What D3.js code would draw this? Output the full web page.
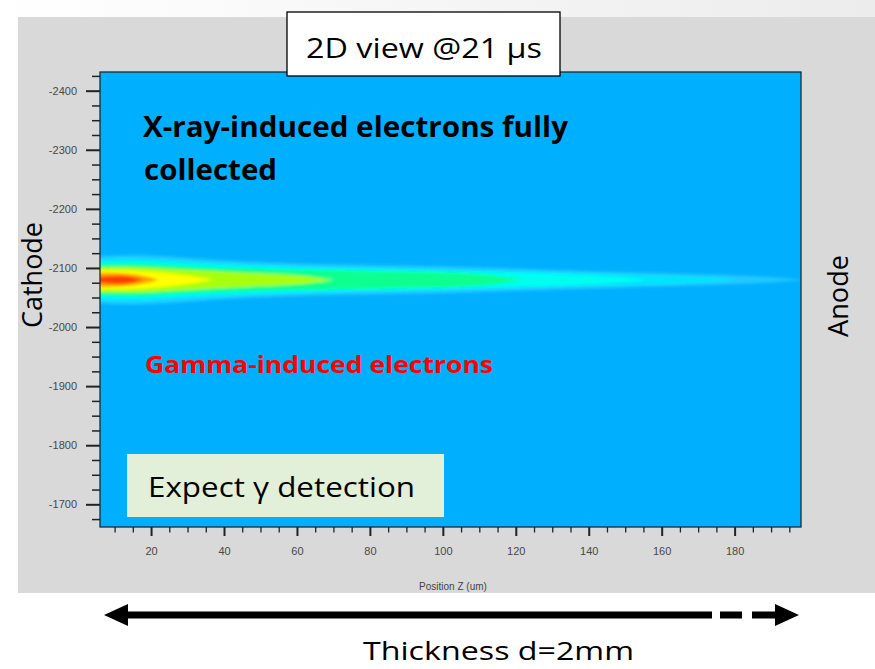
<!DOCTYPE html>
<html lang="en">
<head>
  <meta charset="UTF-8">
  <title>2D view @21 µs</title>
  <script src="https://d3js.org/d3.v7.min.js"></script>
  <style>
    body { margin: 0; background: #fff; }
    .axis text { font-family: "Liberation Sans", Arial, sans-serif; font-size: 11px; fill: #484848; }
    .axis line { stroke: #222; }
    .slide { font-family: "Open Sans", sans-serif; fill: #000; }
  </style>
</head>
<body>
  <svg id="chart" width="875" height="669"></svg>

  <script>
    // axis ticks
    const yTicks = [-2400, -2300, -2200, -2100, -2000, -1900, -1800, -1700];
    const xTicks = [20, 40, 60, 80, 100, 120, 140, 160, 180];

    // plume: centre row (um) and contour half-widths [z, half-width] per density level
    const plumeCenter = -2080;
    const levels = [1, 2, 3, 4, 5, 6, 7, 8];
    const band1 = [[3,39],[12,42],[20,42],[30,37],[45,31],[60,27],[80,25],[100,23],[120,19],[148,13],[175,9],[190,5],[199,0]];
    const band2 = [[3,34],[12,37],[20,36],[30,32],[45,27],[60,23],[80,21],[100,18],[120,15],[148,10],[165,7],[175,4],[181,0]];
    const band3 = [[3,30],[12,32],[20,31],[30,27],[45,23],[60,20],[80,18],[100,15],[120,12],[140,8],[150,4],[156,0]];
    const band4 = [[3,26],[12,28],[20,27],[30,23],[45,19],[60,17],[80,15],[100,13],[110,10],[117,5],[122,0]];
    const band5 = [[3,21],[12,22],[20,21],[30,17],[40,14],[50,11],[60,8],[66,4],[70,0]];
    const band6 = [[3,16],[12,17],[18,15],[25,11],[32,6],[37,0]];
    const band7 = [[3,11],[8,12],[13,11],[18,7],[22,0]];
    const band8 = [[5,4],[8,6],[11,7],[14,6],[16,3],[18,0]];
    const bands = [band1, band2, band3, band4, band5, band6, band7, band8];

    const width = 875;
    const height = 669;
    const plot = { left: 100, top: 72, right: 801, bottom: 527 };

    const svg = d3.select("#chart");

    // slide background
    const grad = svg.append("defs").append("linearGradient")
      .attr("id", "topgrad").attr("x1", 0).attr("x2", 1);
    grad.append("stop").attr("offset", "0%").attr("stop-color", "#ffffff");
    grad.append("stop").attr("offset", "100%").attr("stop-color", "#ececec");
    svg.append("rect").attr("width", width).attr("height", 17).attr("fill", "url(#topgrad)");
    svg.append("rect")
      .attr("x", 18).attr("y", 17)
      .attr("width", width - 18).attr("height", 576)
      .attr("fill", "#d9d9d9");

    // scales
    const x = d3.scaleLinear().domain([6, 198.2]).range([plot.left, plot.right]);
    const y = d3.scaleLinear().domain([-2431.6, -1661.6]).range([plot.top, plot.bottom]);
    const color = d3.scaleLinear()
      .domain(levels)
      .range(["#22c8ff", "#00e4ff", "#00fff0", "#10ff90", "#a8ff10", "#ffff00", "#ffa000", "#ff3a00"]);

    const defs = svg.select("defs");
    defs.append("clipPath").attr("id", "plotclip")
      .append("rect")
      .attr("x", plot.left).attr("y", plot.top)
      .attr("width", plot.right - plot.left).attr("height", plot.bottom - plot.top);
    defs.append("filter").attr("id", "soft")
      .attr("x", "-10%").attr("y", "-50%").attr("width", "120%").attr("height", "200%")
      .append("feGaussianBlur").attr("stdDeviation", 1.6);

    // plot background
    svg.append("rect")
      .attr("x", plot.left).attr("y", plot.top)
      .attr("width", plot.right - plot.left).attr("height", plot.bottom - plot.top)
      .attr("fill", "#00b0ff");

    // plume contours
    const area = d3.area()
      .x((d) => x(d[0]))
      .y0((d) => y(plumeCenter - d[1]))
      .y1((d) => y(plumeCenter + d[1]))
      .curve(d3.curveBasis);

    svg.append("g").attr("clip-path", "url(#plotclip)")
      .append("g").attr("filter", "url(#soft)")
      .selectAll("path")
      .data(bands)
      .enter()
      .append("path")
      .attr("d", area)
      .attr("fill", (d, i) => color(levels[i]));

    // plot frame
    svg.append("rect")
      .attr("x", plot.left).attr("y", plot.top)
      .attr("width", plot.right - plot.left).attr("height", plot.bottom - plot.top)
      .attr("fill", "none").attr("stroke", "#1a2a33").attr("stroke-width", 1.3);

    // y axis
    const yMinor = d3.range(-2425, -1650, 25).filter((v) => v % 100 !== 0);
    const yAxis = svg.append("g").attr("class", "axis")
      .attr("transform", `translate(${plot.left},0)`)
      .call(d3.axisLeft(y).tickValues(yTicks).tickSize(14).tickPadding(9).tickFormat((d) => String(d)));
    yAxis.select(".domain").remove();
    yAxis.selectAll("line").attr("stroke-width", 2);
    const yAxisMinor = svg.append("g").attr("class", "axis")
      .attr("transform", `translate(${plot.left},0)`)
      .call(d3.axisLeft(y).tickValues(yMinor).tickSize(8).tickFormat(""));
    yAxisMinor.select(".domain").remove();
    yAxisMinor.selectAll("line").attr("stroke-width", 1.5);

    // x axis
    const xMinor = d3.range(10, 200, 5).filter((v) => v % 20 !== 0);
    const xAxis = svg.append("g").attr("class", "axis")
      .attr("transform", `translate(0,${plot.bottom})`)
      .call(d3.axisBottom(x).tickValues(xTicks).tickSize(9).tickPadding(11));
    xAxis.select(".domain").remove();
    xAxis.selectAll("line").attr("stroke-width", 2);
    const xAxisMinor = svg.append("g").attr("class", "axis")
      .attr("transform", `translate(0,${plot.bottom})`)
      .call(d3.axisBottom(x).tickValues(xMinor).tickSize(5.5).tickFormat(""));
    xAxisMinor.select(".domain").remove();
    xAxisMinor.selectAll("line").attr("stroke-width", 1.3);

    svg.append("text")
      .attr("x", 453).attr("y", 590)
      .attr("text-anchor", "middle")
      .style("font-family", "Liberation Sans, Arial, sans-serif")
      .style("font-size", "10px")
      .attr("fill", "#444")
      .text("Position Z (um)");

    // slide annotations
    svg.append("rect")
      .attr("x", 287).attr("y", 12).attr("width", 273).attr("height", 64)
      .attr("fill", "#fff").attr("stroke", "#000").attr("stroke-width", 1.3);
    svg.append("text").attr("class", "slide")
      .attr("x", 306).attr("y", 58)
      .attr("textLength", 236).attr("lengthAdjust", "spacingAndGlyphs")
      .style("font-size", "28px")
      .text("2D view @21 µs");

    svg.append("text").attr("class", "slide")
      .attr("x", 143).attr("y", 137)
      .attr("textLength", 425).attr("lengthAdjust", "spacingAndGlyphs")
      .style("font-size", "28px").style("font-weight", "bold")
      .text("X-ray-induced electrons fully");
    svg.append("text").attr("class", "slide")
      .attr("x", 144).attr("y", 180)
      .attr("textLength", 133).attr("lengthAdjust", "spacingAndGlyphs")
      .style("font-size", "28px").style("font-weight", "bold")
      .text("collected");

    svg.append("text").attr("class", "slide")
      .attr("x", 145).attr("y", 373)
      .attr("textLength", 348).attr("lengthAdjust", "spacingAndGlyphs")
      .style("font-size", "23px").style("font-weight", "bold")
      .style("fill", "#ff0000")
      .text("Gamma-induced electrons");

    svg.append("rect")
      .attr("x", 127).attr("y", 454).attr("width", 317).attr("height", 63)
      .attr("fill", "#e2f0d9");
    svg.append("text").attr("class", "slide")
      .attr("x", 148).attr("y", 497)
      .attr("textLength", 267).attr("lengthAdjust", "spacingAndGlyphs")
      .style("font-size", "28px")
      .text("Expect γ detection");

    svg.append("text").attr("class", "slide")
      .attr("transform", "translate(41.5,275) rotate(-90)")
      .attr("text-anchor", "middle")
      .attr("textLength", 106).attr("lengthAdjust", "spacingAndGlyphs")
      .style("font-size", "28px")
      .text("Cathode");
    svg.append("text").attr("class", "slide")
      .attr("transform", "translate(848,296) rotate(-90)")
      .attr("text-anchor", "middle")
      .attr("textLength", 82).attr("lengthAdjust", "spacingAndGlyphs")
      .style("font-size", "28px")
      .text("Anode");

    // thickness arrow
    const ay = 615;
    const arrow = svg.append("g").attr("fill", "#000").attr("stroke", "#000");
    arrow.append("line").attr("x1", 125).attr("x2", 712).attr("y1", ay).attr("y2", ay).attr("stroke-width", 7);
    arrow.append("line").attr("x1", 720).attr("x2", 742).attr("y1", ay).attr("y2", ay).attr("stroke-width", 7);
    arrow.append("line").attr("x1", 752).attr("x2", 778).attr("y1", ay).attr("y2", ay).attr("stroke-width", 7);
    arrow.append("path").attr("stroke", "none")
      .attr("d", `M104,${ay} L128,${ay - 11} L128,${ay + 11} Z`);
    arrow.append("path").attr("stroke", "none")
      .attr("d", `M799,${ay} L775,${ay - 11} L775,${ay + 11} Z`);

    svg.append("text").attr("class", "slide")
      .attr("x", 363).attr("y", 660)
      .attr("textLength", 271).attr("lengthAdjust", "spacingAndGlyphs")
      .style("font-size", "26px")
      .text("Thickness d=2mm");
  </script>
</body>
</html>
